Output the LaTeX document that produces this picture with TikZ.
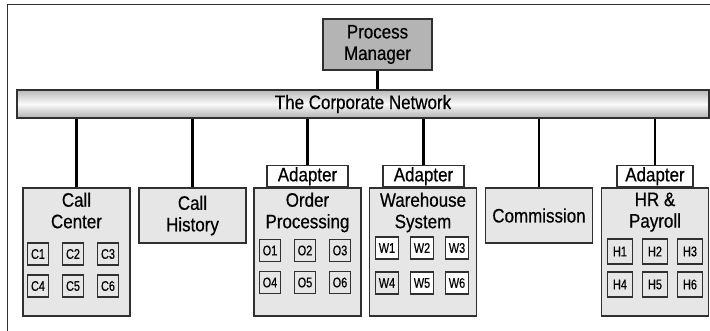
\documentclass[tikz,border=0pt]{standalone}
\usepackage{fontspec}
\setmainfont[FakeStretch=0.87, FakeBold=0.5]{Liberation Sans}
\newfontfamily\narrowfont[FakeStretch=0.78, FakeBold=0.5]{Liberation Sans}
\usetikzlibrary{positioning}

\definecolor{boxgray}{HTML}{E6E6E6}
\definecolor{pmgray}{HTML}{B4B4B4}
\definecolor{edgegray}{HTML}{303030}

\tikzset{
  sysbox/.style={draw=edgegray, line width=1.2pt, fill=boxgray, minimum width=107, inner sep=0},
  pmbox/.style={draw=edgegray, line width=1.2pt, fill=pmgray, minimum width=109, minimum height=51, align=center, inner sep=0},
  netbar/.style={draw=edgegray, line width=1.2pt, top color=gray!55, bottom color=gray!60, middle color=white!96!gray, minimum width=692, minimum height=28, inner sep=0},
  adbox/.style={draw=edgegray, line width=1.2pt, fill=white, minimum width=81, minimum height=21, inner sep=0},
  unitbox/.style={draw=edgegray, line width=1.1pt, fill=boxgray, inner sep=0, font=\narrowfont\fontsize{14}{15}\selectfont},
  title/.style={align=center, inner sep=0},
  link/.style={line width=2.4pt, black}
}

\begin{document}
\begin{tikzpicture}[x=1pt, y=-1pt, font=\fontsize{19.5}{21.5}\selectfont]
\useasboundingbox (0,0) rectangle (710,331);
% frame
\draw[line width=1pt, edgegray] (7,331) -- (7,5) -- (710,5);

% manager and network
\node[pmbox] (pm) at (377.5,44.5) {Process\\Manager};
\node[netbar] (net) at (363,104) {The Corporate Network};

% systems
\node[sysbox, minimum height=128] (cc) at (76.5,252) {};
\node[sysbox, minimum height=55] (ch) at (192.5,215.5) {};
\node[sysbox, minimum height=128] (op) at (307.5,252) {};
\node[sysbox, minimum height=128] (ws) at (423,252) {};
\node[sysbox, minimum height=55] (cm) at (539,215.5) {};
\node[sysbox, minimum height=128] (hr) at (655,252) {};

\node[title, below=5pt of cc.north] {Call\\Center};
\node[title] at (ch.center) {Call\\History};
\node[title, below=5pt of op.north] {Order\\Processing};
\node[title, below=5pt of ws.north] {Warehouse\\System};
\node[title] at (cm.center) {Commission};
\node[title, below=5pt of hr.north] {HR \&\\Payroll};

% adapters
\node[adbox, above=0pt of op.north] (opa) {Adapter};
\node[adbox, above=0pt of ws.north, xshift=0.5pt] (wsa) {Adapter};
\node[adbox, above=0pt of hr.north, minimum width=76] (hra) {Adapter};

% links
\draw[link] (pm.south) -- (pm.south |- net.north);
\draw[link] (cc.north) -- (cc.north |- net.south);
\draw[link] (ch.north) -- (ch.north |- net.south);
\draw[link] (opa.north) -- (opa.north |- net.south);
\draw[link] (wsa.north) -- (wsa.north |- net.south);
\draw[link] (cm.north) -- (cm.north |- net.south);
\draw[link] (hra.north) -- (hra.north |- net.south);

% units
\foreach \p/\cx/\cy/\w/\h/\gap in {C/73/254/21/22/32, O/305/250.5/21/22/32, H/655/251.5/25/25/33}{
  \foreach \n/\dx/\r in {1/-35/0, 2/0/0, 3/35/0, 4/-35/1, 5/0/1, 6/35/1}{
    \node[unitbox, minimum width=\w, minimum height=\h] (\p\n) at (\cx+\dx, \cy+\r*\gap) {\p\n};
  }
}
\foreach \n/\dx/\r/\f in {1/-35/0/white, 2/0/0/white, 3/35/0/white, 4/-35/1/boxgray, 5/0/1/white, 6/35/1/white}{
  \node[unitbox, fill=\f, minimum width=23, minimum height=22] (W\n) at (422+\dx, 248+\r*35) {W\n};
}
\end{tikzpicture}
\end{document}
